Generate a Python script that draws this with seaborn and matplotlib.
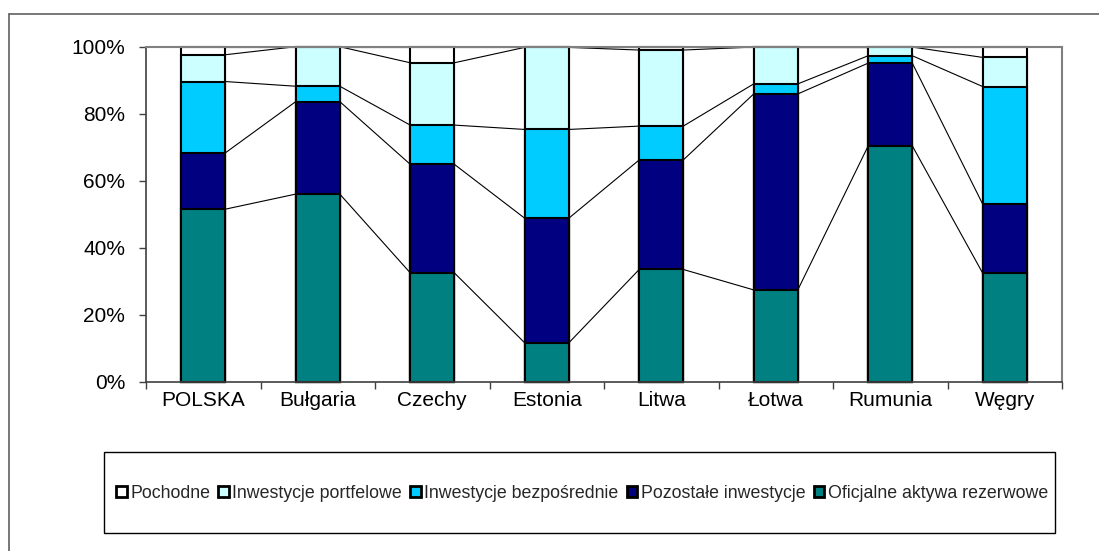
import matplotlib
matplotlib.use("Agg")
import matplotlib.pyplot as plt
import numpy as np
import pandas as pd
import seaborn as sns
from matplotlib.lines import Line2D
from matplotlib.patches import Rectangle
from matplotlib.ticker import PercentFormatter

countries = ["POLSKA", "Bułgaria", "Czechy", "Estonia", "Litwa", "Łotwa", "Rumunia", "Węgry"]

# shares in %, bottom to top
reserve = [51.5, 56.0, 32.5, 11.6, 33.5, 27.4, 70.4, 32.4]
other_inv = [16.8, 27.6, 32.4, 37.2, 32.7, 58.5, 24.7, 20.6]
direct_inv = [21.3, 4.6, 11.7, 26.5, 10.1, 3.0, 2.2, 35.1]
portfolio_inv = [8.0, 11.8, 18.6, 24.5, 22.7, 11.0, 2.6, 8.7]
derivatives = [2.4, 0.0, 4.8, 0.2, 1.0, 0.1, 0.1, 3.2]

series_names = ["Oficjalne aktywa rezerwowe", "Pozostałe inwestycje",
                "Inwestycje bezpośrednie", "Inwestycje portfelowe", "Pochodne"]
series_colors = ["#008080", "#000080", "#00CCFF", "#CCFFFF", "#FFFFFF"]

df = pd.DataFrame({"country": countries,
                   series_names[0]: reserve,
                   series_names[1]: other_inv,
                   series_names[2]: direct_inv,
                   series_names[3]: portfolio_inv,
                   series_names[4]: derivatives})
cum = df[series_names].cumsum(axis=1)

sns.set_theme(style="white")
plt.rcParams["font.family"] = ["Liberation Sans", "DejaVu Sans"]

fig = plt.figure(figsize=(10.99, 5.51), dpi=100)
ax = fig.add_axes([146 / 1099, 1 - 381.7 / 551, (1062 - 146) / 1099, (381.7 - 46.7) / 551])

bar_w = 0.385
# draw cumulative layers from the top one down so lower ones sit in front
for name, color in reversed(list(zip(series_names, series_colors))):
    sns.barplot(x=df["country"], y=cum[name], color=color, saturation=1,
                width=bar_w, edgecolor="black", linewidth=1.5, ax=ax)
for p in ax.patches:
    p.set_clip_on(False)

# series lines between neighbouring bars
xs = np.arange(len(countries))
for name in series_names:
    vals = cum[name].to_numpy()
    for i in range(len(xs) - 1):
        ax.plot([xs[i] + bar_w / 2, xs[i + 1] - bar_w / 2], [vals[i], vals[i + 1]],
                color="black", linewidth=0.8, zorder=1)

ax.set_xlim(-0.5, len(countries) - 0.5)
ax.set_ylim(0, 100)
ax.set_yticks([0, 20, 40, 60, 80, 100])
ax.yaxis.set_major_formatter(PercentFormatter(decimals=0))
ax.set_xlabel("")
ax.set_ylabel("")
ax.set_xticks(xs)
ax.set_xticklabels(countries)
ax.set_xticks(np.arange(-0.5, len(countries)), minor=True)
ax.tick_params(axis="x", which="major", length=0, pad=7, labelsize=15, colors="black")
ax.tick_params(axis="x", which="minor", length=5, width=1, color="#404040", direction="out", bottom=True)
ax.tick_params(axis="y", length=5, width=1, color="#404040", direction="out", left=True, pad=10,
               labelsize=15, labelcolor="black")

for side in ["left", "bottom"]:
    ax.spines[side].set_color("#404040")
    ax.spines[side].set_linewidth(1.2)
for side in ["top", "right"]:
    ax.spines[side].set_color("#808080")
    ax.spines[side].set_linewidth(1.5)
ax.set_zorder(2)

# legend box and entries (top series first)
fig.patches.append(Rectangle((104 / 1099, 1 - 533 / 551), (1055 - 104) / 1099, (533 - 452) / 551,
                             transform=fig.transFigure, facecolor="white", edgecolor="black",
                             linewidth=1.0))
handles = [Rectangle((0, 0), 1, 1, facecolor=c, edgecolor="black", linewidth=2)
           for c in reversed(series_colors)]
fig.legend(handles, list(reversed(series_names)), loc="center",
           bbox_to_anchor=(582 / 1099, 1 - 493 / 551), ncol=5, frameon=False,
           fontsize=12.8, handlelength=0.6, handleheight=0.6, handletextpad=0.2,
           columnspacing=0.45, borderaxespad=0)

# outer chart border (left and top visible)
fig.add_artist(Line2D([8.5 / 1099, 8.5 / 1099], [0, 1 - 14 / 551], transform=fig.transFigure,
                      color="#606060", linewidth=1.2))
fig.add_artist(Line2D([8.5 / 1099, 1], [1 - 14 / 551, 1 - 14 / 551], transform=fig.transFigure,
                      color="#606060", linewidth=1.2))

fig.savefig("out.png", dpi=100)
